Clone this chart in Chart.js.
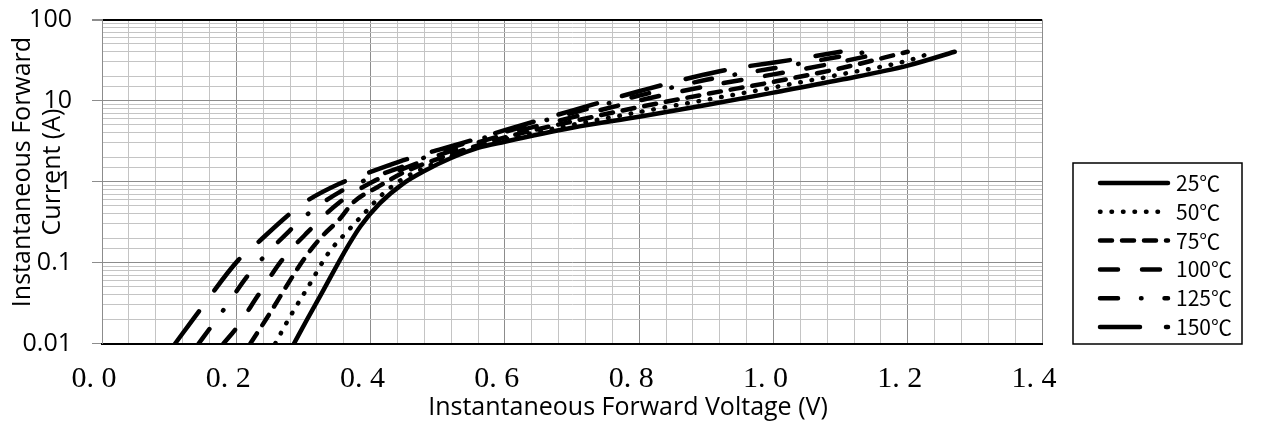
<!DOCTYPE html>
<html>
<head>
<meta charset="utf-8">
<script src="https://cdn.jsdelivr.net/npm/chart.js@4.4.1/dist/chart.umd.min.js"></script>
<style>
  html, body { margin: 0; padding: 0; background: #fff; }
</style>
</head>
<body>
<canvas id="Forward_Chart" width="1265" height="423"></canvas>
<script>
// series labels
var temps = ['25℃', '50℃', '75℃', '100℃', '125℃', '150℃'];

// forward voltage (V) / current (A)
var v25 = [0.286, 0.305, 0.33, 0.36, 0.385, 0.414, 0.449, 0.48, 0.52, 0.56, 0.6, 0.7, 0.8, 0.9, 1.0, 1.1, 1.2, 1.27];
var i25 = [0.01, 0.0195, 0.046, 0.13, 0.28, 0.54, 0.95, 1.35, 1.95, 2.6, 3.1, 4.6, 6.3, 8.8, 12.5, 18, 27, 40];

var v50 = [0.258, 0.28, 0.307, 0.337, 0.367, 0.39, 0.419, 0.45, 0.49, 0.53, 0.6, 0.7, 0.8, 0.9, 1.0, 1.1, 1.2, 1.24];
var i50 = [0.01, 0.0214, 0.05, 0.13, 0.25, 0.40, 0.71, 1.1, 1.6, 2.2, 3.3, 5.0, 7.2, 10.2, 14.5, 21, 31, 40];

var v75 = [0.221, 0.25, 0.27, 0.29, 0.31, 0.33, 0.352, 0.375, 0.41, 0.45, 0.5, 0.6, 0.7, 0.8, 0.9, 1.0, 1.1, 1.2];
var i75 = [0.01, 0.0236, 0.044, 0.081, 0.14, 0.22, 0.33, 0.56, 0.85, 1.3, 1.9, 3.5, 5.5, 8.3, 12, 17, 25, 40];

var v100 = [0.181, 0.2, 0.233, 0.268, 0.307, 0.352, 0.404, 0.45, 0.5, 0.6, 0.7, 0.8, 0.9, 1.0, 1.1, 1.17];
var i100 = [0.01, 0.0155, 0.04, 0.107, 0.24, 0.54, 1.0, 1.45, 2.1, 3.8, 6.2, 10, 15, 21, 30, 40];

var v125 = [0.144, 0.161, 0.181, 0.216, 0.238, 0.28, 0.307, 0.355, 0.40, 0.45, 0.5, 0.6, 0.7, 0.8, 0.9, 1.0, 1.14];
var i125 = [0.01, 0.0155, 0.026, 0.067, 0.11, 0.25, 0.40, 0.75, 1.1, 1.55, 2.3, 4.1, 7.0, 11.5, 18, 25, 40];

var v150 = [0.109, 0.146, 0.203, 0.228, 0.275, 0.30, 0.355, 0.387, 0.442, 0.474, 0.536, 0.6, 0.7, 0.8, 0.92, 1.04, 1.1];
var i150 = [0.01, 0.026, 0.107, 0.164, 0.37, 0.54, 0.95, 1.2, 1.75, 2.12, 2.97, 4.3, 7.5, 13, 23, 33, 40];

// tick labels
var xTickLabels = ['0. 0', '0. 2', '0. 4', '0. 6', '0. 8', '1. 0', '1. 2', '1. 4'];
var yTickLabels = ['0.01', '0.1', '1', '10', '100'];

var volts = [v25, v50, v75, v100, v125, v150];
var amps = [i25, i50, i75, i100, i125, i150];
var dashes = [[], [0.5, 11], [12, 10], [18, 24], [18, 23, 0.5, 23], [40, 26]];

function toPoints(vs, is) {
    var pts = [];
    for (var k = 0; k < vs.length; k++) {
        pts.push({ x: vs[k], y: is[k] });
    }
    return pts;
}

function isMajorX(v) {
    return Math.abs(v / 0.2 - Math.round(v / 0.2)) < 1e-6;
}

function isMajorY(v) {
    var l = Math.log10(v);
    return Math.abs(l - Math.round(l)) < 1e-6;
}

var datasets = temps.map(function (t, n) {
    return {
        label: t,
        data: toPoints(volts[n], amps[n]),
        borderColor: '#000',
        backgroundColor: 'rgba(0,0,0,0)',
        borderWidth: 4.5,
        borderDash: dashes[n],
        borderCapStyle: 'round',
        borderJoinStyle: 'round',
        pointRadius: 0,
        cubicInterpolationMode: 'monotone',
        fill: false
    };
});

// axis titles + legend box, placed like the original
var tempLegend = {
    id: 'tempLegend',
    afterDraw: function (chart) {
        var ctx = chart.ctx;
        ctx.save();
        ctx.fillStyle = '#000';
        ctx.font = '25px "Open Sans"';
        ctx.textAlign = 'center';
        ctx.textBaseline = 'middle';
        ctx.fillText('Instantaneous Forward Voltage (V)', 628, 408);

        ctx.save();
        ctx.translate(23, 172);
        ctx.rotate(-Math.PI / 2);
        ctx.fillText('Instantaneous Forward', 0, 0);
        ctx.fillText('Current (A)', 0, 30);
        ctx.restore();

        ctx.strokeStyle = '#000';
        ctx.lineWidth = 1.5;
        ctx.setLineDash([]);
        ctx.strokeRect(1073, 163, 169, 181);
        chart.data.datasets.forEach(function (ds, n) {
            var y = 183 + n * 28.8;
            ctx.beginPath();
            ctx.setLineDash(ds.borderDash);
            ctx.lineCap = 'round';
            ctx.lineWidth = ds.borderWidth;
            ctx.strokeStyle = ds.borderColor;
            ctx.moveTo(1100, y);
            ctx.lineTo(1168, y);
            ctx.stroke();
            ctx.setLineDash([]);
            ctx.fillStyle = '#000';
            ctx.font = '21px "Noto Sans CJK JP"';
            ctx.textBaseline = 'middle';
            ctx.textAlign = 'left';
            ctx.fillText(ds.label, 1176, y);
        });
        ctx.restore();
    }
};

new Chart(document.getElementById('Forward_Chart').getContext('2d'), {
    type: 'line',
    data: { datasets: datasets },
    plugins: [tempLegend],
    options: {
        responsive: false,
        animation: false,
        layout: { padding: { left: 0, right: 223, top: 19.5, bottom: 0 } },
        plugins: {
            legend: { display: false },
            tooltip: { enabled: false }
        },
        scales: {
            x: {
                type: 'linear',
                min: 0,
                max: 1.4,
                afterFit: function (s) { s.height = 79.5; },
                border: { color: '#000', width: 2 },
                grid: {
                    drawTicks: false,
                    color: function (c) { return isMajorX(c.tick.value) ? '#8c8c8c' : '#c4c4c4'; },
                    lineWidth: 1
                },
                ticks: {
                    stepSize: 0.04,
                    autoSkip: false,
                    maxRotation: 0,
                    padding: 18,
                    labelOffset: -8,
                    color: '#000',
                    font: { family: '"Liberation Serif"', size: 30 },
                    callback: function (v) {
                        return isMajorX(v) ? xTickLabels[Math.round(v / 0.2)] : '';
                    }
                },
                title: { display: false }
            },
            y: {
                type: 'logarithmic',
                min: 0.01,
                max: 100,
                afterFit: function (s) {
                    s.width = 102;
                    s.paddingTop = 0;
                    s.paddingBottom = 0;
                },
                border: { color: '#8c8c8c', width: 1 },
                grid: {
                    tickLength: 10,
                    color: function (c) {
                        if (Math.abs(c.tick.value - 100) < 1e-6) return '#000';
                        return isMajorY(c.tick.value) ? '#8c8c8c' : '#c4c4c4';
                    },
                    lineWidth: function (c) { return Math.abs(c.tick.value - 100) < 1e-6 ? 2 : 1; },
                    tickColor: function (c) { return isMajorY(c.tick.value) ? '#8c8c8c' : 'rgba(0,0,0,0)'; }
                },
                ticks: {
                    autoSkip: false,
                    padding: 20,
                    color: '#000',
                    font: { family: '"Open Sans"', size: 25 },
                    callback: function (v) {
                        return isMajorY(v) ? yTickLabels[Math.round(Math.log10(v)) + 2] : '';
                    }
                },
                title: { display: false }
            }
        }
    }
});
</script>
</body>
</html>
